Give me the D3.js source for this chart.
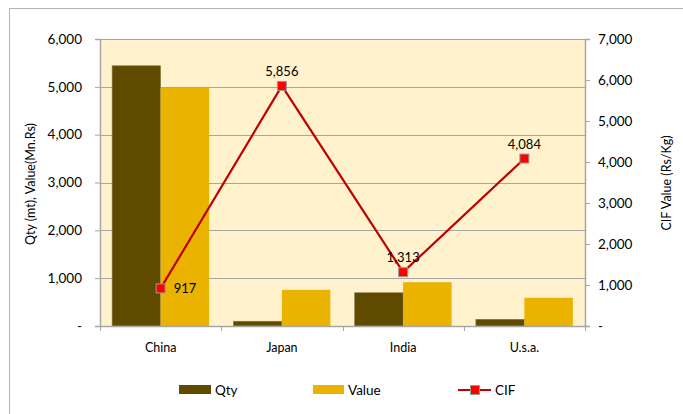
<!DOCTYPE html>
<html>
<head>
<meta charset="utf-8">
<script src="https://cdn.jsdelivr.net/npm/d3@7"></script>
<style>
  body { margin: 0; background: #fff; }
  svg { font-family: Lato, "Open Sans", sans-serif; }
</style>
</head>
<body>
<svg id="chart" width="683" height="414"></svg>
<script>
// data
const countries = ["China", "Japan", "India", "U.s.a."];
const qty = [5440, 100, 695, 140];
const value = [4980, 755, 915, 590];
const cif = [917, 5856, 1313, 4084];
const leftTicks = [0, 1000, 2000, 3000, 4000, 5000, 6000];
const rightTicks = [0, 1000, 2000, 3000, 4000, 5000, 6000, 7000];

const svg = d3.select("#chart");
const margin = { top: 39, right: 98, bottom: 88, left: 100 };
const width = 683 - margin.left - margin.right;
const height = 414 - margin.top - margin.bottom;

// outer chart border
svg.append("rect")
    .attr("x", 9.5).attr("y", 8.5)
    .attr("width", 690).attr("height", 420)
    .attr("fill", "none").attr("stroke", "#b3b3b3");

const g = svg.append("g").attr("transform", `translate(${margin.left},${margin.top})`);

const x = d3.scaleBand().domain(countries).range([0, width]);
const yL = d3.scaleLinear().domain([0, 6000]).range([height, 0]);
const yR = d3.scaleLinear().domain([0, 7000]).range([height, 0]);

// plot background
g.append("rect")
    .attr("width", width).attr("height", height)
    .attr("fill", "#fff2cc");

// gridlines
g.append("g")
    .selectAll("line")
    .data(leftTicks.slice(1))
    .join("line")
    .attr("x1", 0).attr("x2", width)
    .attr("y1", d => Math.round(yL(d)) + 0.5)
    .attr("y2", d => Math.round(yL(d)) + 0.5)
    .attr("stroke", "#a6a6a6");

// bars, gap width 50%
const barW = x.bandwidth() / 2.5;
const pad = barW / 4;

g.append("g")
    .selectAll("rect")
    .data(countries)
    .join("rect")
    .attr("x", d => x(d) + pad)
    .attr("y", (d, i) => yL(qty[i]))
    .attr("width", barW)
    .attr("height", (d, i) => height - yL(qty[i]))
    .attr("fill", "#604a00")
    .attr("stroke", "#8a7a4a").attr("stroke-width", 0.6);

g.append("g")
    .selectAll("rect")
    .data(countries)
    .join("rect")
    .attr("x", d => x(d) + pad + barW)
    .attr("y", (d, i) => yL(value[i]))
    .attr("width", barW)
    .attr("height", (d, i) => height - yL(value[i]))
    .attr("fill", "#eab300");

// axes
const fmt = d => d === 0 ? "-" : d3.format(",")(d);

const leftAxis = g.append("g")
    .call(d3.axisLeft(yL).tickValues(leftTicks).tickSize(5).tickPadding(13).tickFormat(fmt));
const rightAxis = g.append("g")
    .attr("transform", `translate(${width},0)`)
    .call(d3.axisRight(yR).tickValues(rightTicks).tickSize(5).tickPadding(8).tickFormat(fmt));
const bottomAxis = g.append("g")
    .attr("transform", `translate(0,${height})`)
    .call(d3.axisBottom(x).tickSize(0).tickPadding(17));

// category tick marks at band edges
g.append("g")
    .selectAll("line")
    .data(d3.range(countries.length + 1))
    .join("line")
    .attr("x1", i => Math.round(i * x.step()) + 0.5)
    .attr("x2", i => Math.round(i * x.step()) + 0.5)
    .attr("y1", height).attr("y2", height + 5)
    .attr("stroke", "#a6a6a6");

[leftAxis, rightAxis, bottomAxis].forEach(a => {
    a.selectAll(".domain").attr("stroke", "#a6a6a6").attr("stroke-width", 1.5);
    a.selectAll(".tick line").attr("stroke", "#a6a6a6");
    a.selectAll("text").attr("font-size", 13.5).attr("fill", "#000").attr("font-family", "Lato, sans-serif");
});
bottomAxis.selectAll("text").attr("font-size", 12.5);

// CIF line
const cx = d => x(d) + x.bandwidth() / 2;
g.append("path")
    .datum(countries)
    .attr("d", d3.line().x(cx).y((d, i) => yR(cif[i])))
    .attr("fill", "none")
    .attr("stroke", "#c00000")
    .attr("stroke-width", 2.2);

g.append("g")
    .selectAll("rect")
    .data(countries)
    .join("rect")
    .attr("x", d => cx(d) - 4.5)
    .attr("y", (d, i) => yR(cif[i]) - 4.5)
    .attr("width", 9).attr("height", 9)
    .attr("fill", "#ff0000")
    .attr("stroke", "#999").attr("stroke-width", 1);

g.append("g")
    .selectAll("text")
    .data(countries)
    .join("text")
    .attr("x", (d, i) => i === 0 ? cx(d) + 13 : cx(d))
    .attr("y", (d, i) => i === 0 ? yR(cif[i]) + 5 : yR(cif[i]) - 10)
    .attr("text-anchor", (d, i) => i === 0 ? "start" : "middle")
    .attr("font-size", 13)
    .text((d, i) => d3.format(",")(cif[i]));

// axis titles
svg.append("text")
    .attr("transform", "translate(35,184) rotate(-90)")
    .attr("text-anchor", "middle")
    .attr("font-size", 12.5)
    .text("Qty (mt), Value(Mn.Rs)");

svg.append("text")
    .attr("transform", "translate(671,183) rotate(-90)")
    .attr("text-anchor", "middle")
    .attr("font-size", 12.5)
    .text("CIF Value (Rs/Kg)");

// legend
const legend = svg.append("g").attr("font-size", 13.5);
legend.append("rect").attr("x", 179).attr("y", 385).attr("width", 32).attr("height", 9).attr("fill", "#604a00");
legend.append("text").attr("x", 215).attr("y", 395).text("Qty");
legend.append("rect").attr("x", 313).attr("y", 385).attr("width", 31).attr("height", 9).attr("fill", "#eab300");
legend.append("text").attr("x", 348).attr("y", 395).text("Value");
legend.append("line").attr("x1", 458).attr("x2", 491).attr("y1", 390).attr("y2", 390)
    .attr("stroke", "#c00000").attr("stroke-width", 2.2);
legend.append("rect").attr("x", 470.5).attr("y", 385.5).attr("width", 9).attr("height", 9)
    .attr("fill", "#ff0000").attr("stroke", "#999");
legend.append("text").attr("x", 495).attr("y", 395).text("CIF");
</script>
</body>
</html>
